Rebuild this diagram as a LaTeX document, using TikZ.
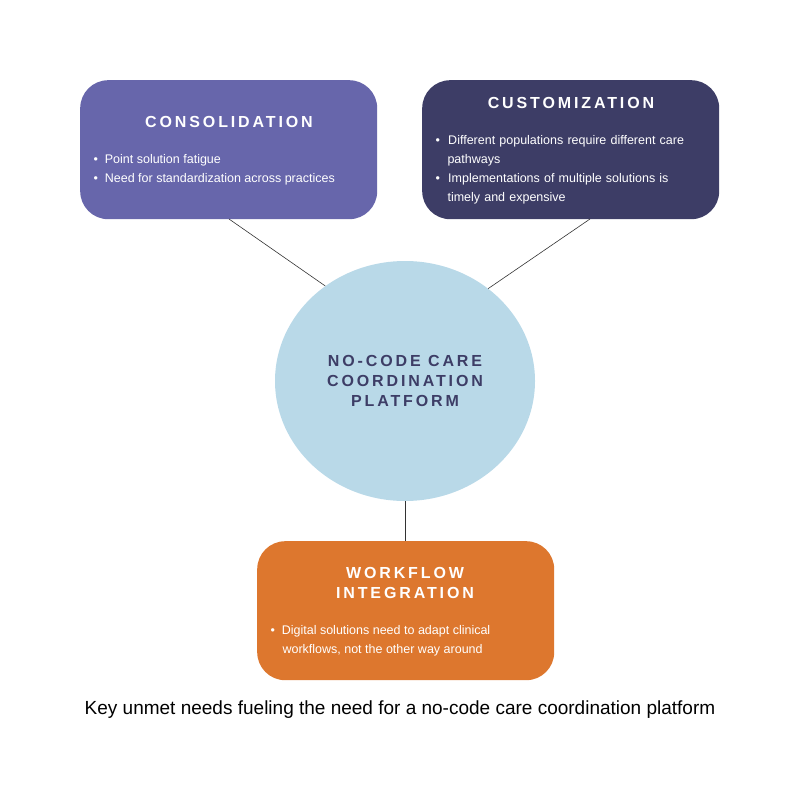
\documentclass[tikz,border=0pt]{standalone}
\usepackage{fontspec}
\usetikzlibrary{shapes.geometric}
\setmainfont{Liberation Sans}
\newfontfamily\ttl[LetterSpace=18]{Liberation Sans}
\definecolor{cons}{HTML}{6766AB}
\definecolor{cust}{HTML}{3D3D66}
\definecolor{circ}{HTML}{B9D9E8}
\definecolor{work}{HTML}{DD772E}
\begin{document}
\begin{tikzpicture}[x=1pt,y=-1pt,
  box/.style={rounded corners=28pt,minimum width=297pt,minimum height=139pt,anchor=north west},
  title/.style={text=white,font=\ttl\bfseries\fontsize{16}{20}\selectfont,align=center},
  body/.style={text=white,font=\fontsize{12.5}{19}\selectfont,align=left,anchor=north west},
  conn/.style={draw=black!80,line width=0.6pt}]
\useasboundingbox (0,0) rectangle (800,800);
\node[box,fill=cons] (a) at (80,80) {};
\node[box,fill=cust] (b) at (422,80) {};
\node[box,fill=work] (c) at (257,541) {};
\node[ellipse,fill=circ,minimum width=260pt,minimum height=240pt,inner sep=0pt] (m) at (405,381) {};
\node[title,text=cust] at (405,381) {NO-CODE CARE\\COORDINATION\\PLATFORM};
\node[title] at (229,122) {CONSOLIDATION};
\node[title] at (571,103) {CUSTOMIZATION};
\node[title] at (405,583) {WORKFLOW\\INTEGRATION};
\node[body] at (90,151) {\textbullet\ \ Point solution fatigue\\\textbullet\ \ Need for standardization across practices};
\node[body,text width=280pt] at (432,132) {\textbullet\ \ Different populations require different care\\\hspace*{12pt}pathways\\\textbullet\ \ Implementations of multiple solutions is\\\hspace*{12pt}timely and expensive};
\node[body] at (267,622) {\textbullet\ \ Digital solutions need to adapt clinical\\\hspace*{12pt}workflows, not the other way around};
\node[font=\fontsize{19}{23}\selectfont] (cap) at (400,710) {Key unmet needs fueling the need for a no-code care coordination platform};
\coordinate (a1) at (229,219); \coordinate (b1) at (590,219); \coordinate (c1) at (405,541);
\draw[conn] (a1) -- (m.130);
\draw[conn] (b1) -- (m.48);
\draw[conn] (m.south) -- (c1);
\end{tikzpicture}
\end{document}
